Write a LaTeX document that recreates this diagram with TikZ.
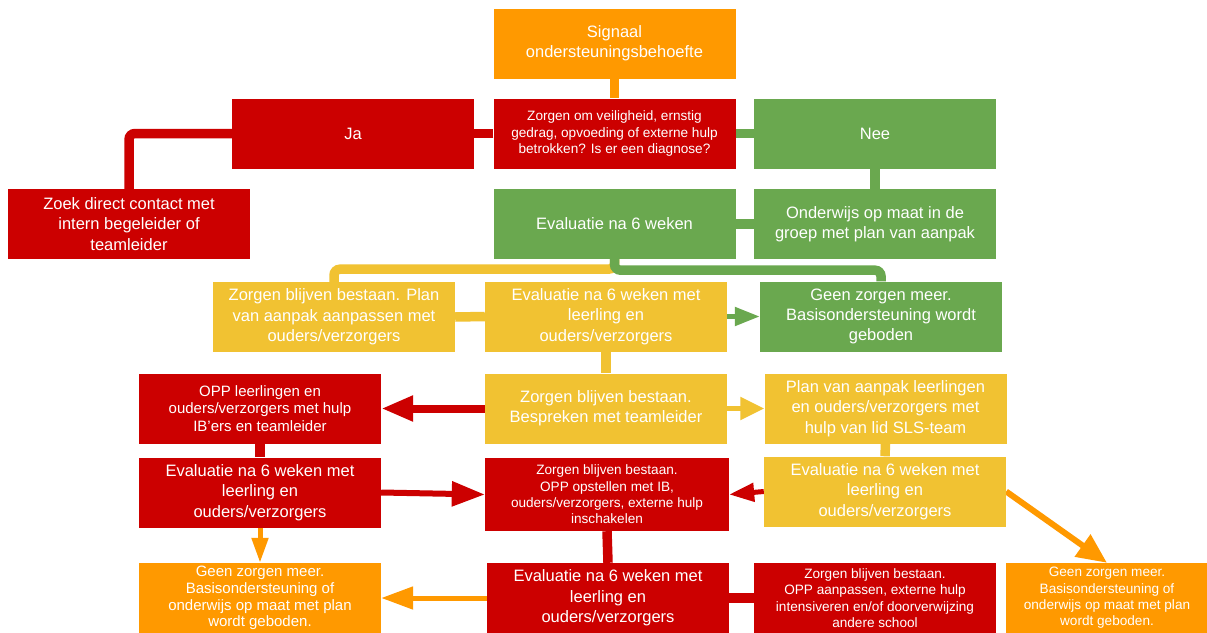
\documentclass[tikz,border=0pt]{standalone}
\usepackage{fontspec}
\setmainfont{Liberation Sans}
\usetikzlibrary{arrows.meta}
\pgfdeclarelayer{background}
\pgfsetlayers{background,main}

\definecolor{gorange}{HTML}{FF9900}
\definecolor{gred}{HTML}{CC0000}
\definecolor{ggreen}{HTML}{6AA84F}
\definecolor{gyellow}{HTML}{F1C232}

\tikzset{
  box/.style={minimum width=242pt, minimum height=70pt, inner sep=0pt,
    align=center, text=white, font=\fontsize{16.5}{20.3}\selectfont},
  midtext/.style={font=\fontsize{15}{17.2}\selectfont},
  smalltext/.style={font=\fontsize{13.6}{16.3}\selectfont},
  orangebox/.style={box, fill=gorange},
  redbox/.style={box, fill=gred},
  greenbox/.style={box, fill=ggreen},
  yellowbox/.style={box, fill=gyellow},
  link/.style={line width=9.5pt, rounded corners=6pt},
  thinarrow/.style={line width=5pt},
}

\begin{document}
\begin{tikzpicture}[x=1pt, y=-1pt]
\path[use as bounding box, clip] (0,0) rectangle (1207,632);

% decision flow boxes
\node[orangebox] (sig)   at (614.5,43.5) {Signaal\\ondersteuningsbehoefte};
\node[redbox, smalltext] (q) at (614.5,133.5) {Zorgen om veiligheid, ernstig\\gedrag, opvoeding of externe hulp\\betrokken? Is er een diagnose?};
\node[redbox]    (ja)    at (353,133.5) {Ja};
\node[greenbox]  (nee)   at (875,133.5) {Nee};
\node[redbox]    (zoek)  at (129,224) {Zoek direct contact met\\intern begeleider of\\teamleider};
\node[greenbox]  (evg)   at (614.5,224) {Evaluatie na 6 weken};
\node[greenbox]  (ondw)  at (875,224) {Onderwijs op maat in de\\groep met plan van aanpak};

% second stage
\node[yellowbox] (plan1) at (334,317) {Zorgen blijven bestaan. Plan\\van aanpak aanpassen met\\ouders/verzorgers};
\node[yellowbox] (ev1)   at (606,316.5) {Evaluatie na 6 weken met\\leerling en\\ouders/verzorgers};
\node[greenbox]  (geen1) at (881,316.5) {Geen zorgen meer.\\Basisondersteuning wordt\\geboden};
\node[yellowbox] (bespr) at (606,408.5) {Zorgen blijven bestaan.\\Bespreken met teamleider};
\node[redbox, midtext] (opp1) at (260,408.5) {OPP leerlingen en\\ouders/verzorgers met hulp\\IB’ers en teamleider};
\node[yellowbox] (plan2) at (885.5,408.5) {Plan van aanpak leerlingen\\en ouders/verzorgers met\\hulp van lid SLS-team};

% third stage
\node[redbox]    (evr)   at (260,492.5) {Evaluatie na 6 weken met\\leerling en\\ouders/verzorgers};
\node[redbox, smalltext, minimum width=244pt, minimum height=73pt] (opp2) at (607,494.5) {Zorgen blijven bestaan.\\OPP opstellen met IB,\\ouders/verzorgers, externe hulp\\inschakelen};
\node[yellowbox] (evy)   at (885,491.5) {Evaluatie na 6 weken met\\leerling en\\ouders/verzorgers};

% last stage
\node[orangebox, font=\fontsize{15}{16.7}\selectfont] (geen2) at (260,598) {Geen zorgen meer.\\Basisondersteuning of\\onderwijs op maat met plan\\wordt geboden.};
\node[redbox]    (evr2)  at (608,598) {Evaluatie na 6 weken met\\leerling en\\ouders/verzorgers};
\node[redbox, smalltext] (opp3) at (875,598) {Zorgen blijven bestaan.\\OPP aanpassen, externe hulp\\intensiveren en/of doorverwijzing\\andere school};
\node[orangebox, smalltext, minimum width=202pt] (geen3) at (1107,598) {Geen zorgen meer.\\Basisondersteuning of\\onderwijs op maat met plan\\wordt geboden.};

\begin{pgfonlayer}{background}
\fill[white] (0,0) rectangle (1207,632);

% plain connectors
\draw[link, gorange] (sig.south) -- (q.north);
\draw[link, gred] (q.west) -- (ja.east);
\draw[link, ggreen] (q.east) -- (nee.west);
\draw[link, gred] (ja.west) -| (zoek.north);
\draw[link, ggreen] (nee.south) -- (ondw.north);
\draw[link, ggreen] (ondw.west) -- (evg.east);
\draw[link, gyellow] (evg.south) -- ++(0,10) -| (plan1.north);
\draw[link, ggreen] (evg.south) -- ++(0,11) -| (geen1.north);
\draw[link, gyellow] (plan1.east) -- (ev1.west);
\draw[link, gyellow] (ev1.south) -- (bespr.north);
\draw[link, gred] (opp1.south) -- (evr.north);
\draw[link, gyellow] (plan2.south) -- (evy.north);
\draw[link, gred] (opp2.south) -- (evr2.north);
\draw[link, gred] (evr2.east) -- (opp3.west);

% arrows
\draw[thinarrow, ggreen, -{Triangle[length=25pt, width=18pt]}] (ev1.east) -- (geen1.west);
\draw[line width=8pt, gred, -{Triangle[length=32pt, width=24pt]}] (bespr.west) -- (opp1.east);
\draw[thinarrow, gyellow, -{Triangle[length=24pt, width=22pt]}] (bespr.east) -- (plan2.west);
\draw[line width=6pt, gred, -{Triangle[length=33pt, width=24pt]}] (evr.east) -- (opp2.west);
\draw[thinarrow, gred, -{Triangle[length=25pt, width=18pt]}] (evy.west) -- (opp2.east);
\draw[line width=6pt, gorange, -{Triangle[length=30pt, width=26pt]}] (evy.east) -- (geen3.north);
\draw[thinarrow, gorange, -{Triangle[length=25pt, width=16pt]}] (evr.south) -- (geen2.north);
\draw[thinarrow, gorange, -{Triangle[length=32pt, width=22pt]}] (evr2.west) -- (geen2.east);
\end{pgfonlayer}
\end{tikzpicture}
\end{document}
